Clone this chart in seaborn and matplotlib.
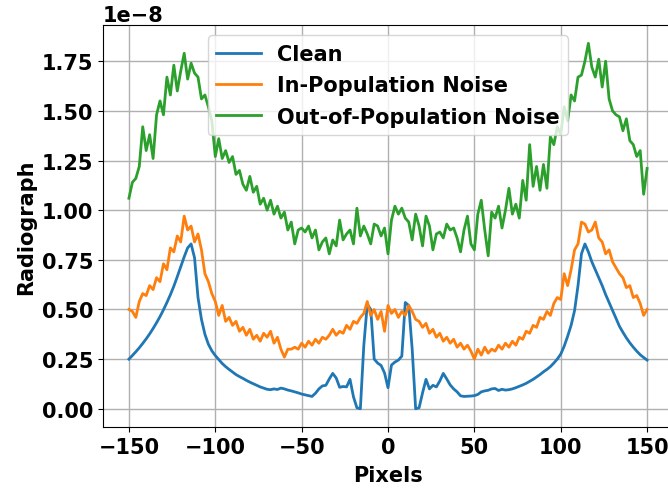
import numpy as np
import pandas as pd
import matplotlib
matplotlib.use("Agg")
import matplotlib.pyplot as plt
import seaborn as sns

pixels = list(range(-150, 151, 2))

clean = [
    0.250, 0.268, 0.287, 0.307, 0.329, 0.352, 0.377, 0.404, 0.433, 0.464,
    0.498, 0.535, 0.574, 0.617, 0.665, 0.715, 0.765, 0.810, 0.830, 0.760,
    0.560, 0.450, 0.375, 0.325, 0.292, 0.268, 0.248, 0.228, 0.212, 0.198,
    0.185, 0.172, 0.162, 0.153, 0.143, 0.134, 0.126, 0.118, 0.110, 0.104,
    0.098, 0.096, 0.100, 0.097, 0.104, 0.100, 0.094, 0.090, 0.085, 0.080,
    0.074, 0.070, 0.066, 0.062, 0.078, 0.100, 0.115, 0.118, 0.150, 0.178,
    0.155, 0.108, 0.112, 0.110, 0.148, 0.060, 0.005, 0.000, 0.320, 0.526,
    0.500, 0.250, 0.230, 0.218, 0.180, 0.106, 0.220, 0.235, 0.245, 0.265,
    0.535, 0.520, 0.300, 0.000, 0.005, 0.080, 0.148, 0.100, 0.118, 0.110,
    0.140, 0.178, 0.150, 0.120, 0.100, 0.085, 0.065, 0.062, 0.063, 0.064,
    0.066, 0.072, 0.085, 0.090, 0.093, 0.100, 0.102, 0.092, 0.098, 0.094,
    0.096, 0.100, 0.106, 0.113, 0.120, 0.128, 0.138, 0.148, 0.160, 0.172,
    0.186, 0.198, 0.212, 0.230, 0.250, 0.275, 0.315, 0.365, 0.420, 0.494,
    0.620, 0.780, 0.830, 0.790, 0.740, 0.700, 0.660, 0.620, 0.575, 0.535,
    0.495, 0.455, 0.415, 0.385, 0.357, 0.332, 0.310, 0.290, 0.272, 0.258,
    0.245,
]

in_population = [
    0.50, 0.49, 0.46, 0.54, 0.58, 0.57, 0.62, 0.60, 0.66, 0.64,
    0.73, 0.70, 0.81, 0.79, 0.87, 0.84, 0.97, 0.90, 0.92, 0.84,
    0.88, 0.80, 0.68, 0.64, 0.58, 0.54, 0.47, 0.52, 0.44, 0.46,
    0.42, 0.44, 0.39, 0.41, 0.37, 0.40, 0.35, 0.37, 0.34, 0.38,
    0.36, 0.39, 0.33, 0.36, 0.30, 0.26, 0.30, 0.30, 0.31, 0.30,
    0.33, 0.31, 0.34, 0.32, 0.35, 0.33, 0.36, 0.35, 0.37, 0.40,
    0.37, 0.39, 0.38, 0.42, 0.40, 0.44, 0.43, 0.46, 0.48, 0.54,
    0.47, 0.50, 0.45, 0.49, 0.39, 0.52, 0.48, 0.50, 0.46, 0.49,
    0.47, 0.52, 0.49, 0.45, 0.44, 0.41, 0.43, 0.38, 0.40, 0.36,
    0.38, 0.34, 0.36, 0.33, 0.35, 0.31, 0.33, 0.30, 0.32, 0.29,
    0.25, 0.30, 0.27, 0.31, 0.28, 0.30, 0.29, 0.32, 0.30, 0.33,
    0.31, 0.34, 0.32, 0.36, 0.35, 0.39, 0.38, 0.42, 0.41, 0.46,
    0.45, 0.49, 0.47, 0.53, 0.56, 0.55, 0.68, 0.62, 0.70, 0.80,
    0.83, 0.94, 0.93, 0.89, 0.90, 0.94, 0.86, 0.84, 0.78, 0.80,
    0.74, 0.71, 0.68, 0.66, 0.61, 0.62, 0.56, 0.57, 0.53, 0.47,
    0.50,
]

out_of_population = [
    1.06, 1.14, 1.16, 1.22, 1.42, 1.30, 1.38, 1.26, 1.48, 1.55,
    1.48, 1.67, 1.58, 1.73, 1.60, 1.70, 1.79, 1.66, 1.74, 1.69,
    1.67, 1.56, 1.58, 1.52, 1.45, 1.27, 1.36, 1.26, 1.30, 1.24,
    1.27, 1.18, 1.20, 1.13, 1.10, 1.17, 1.09, 1.12, 1.03, 1.06,
    1.00, 1.05, 0.98, 1.02, 0.96, 0.99, 0.90, 0.94, 0.83, 0.90,
    0.91, 0.89, 0.92, 0.86, 0.90, 0.80, 0.84, 0.86, 0.78, 0.85,
    0.82, 0.95, 0.85, 0.88, 0.90, 0.83, 1.01, 0.87, 0.92, 0.88,
    0.83, 0.93, 0.92, 0.87, 0.91, 0.78, 0.95, 1.02, 0.98, 1.01,
    0.96, 0.94, 0.85, 0.98, 0.92, 0.82, 0.97, 0.92, 0.80, 0.88,
    0.89, 0.86, 0.93, 0.90, 0.91, 0.86, 0.79, 0.90, 0.97, 0.83,
    0.80, 0.98, 1.05, 0.90, 0.77, 0.99, 0.96, 1.02, 0.91, 1.00,
    1.11, 0.98, 1.03, 0.96, 1.15, 1.05, 1.33, 1.12, 1.22, 1.10,
    1.23, 1.11, 1.37, 1.33, 1.42, 1.38, 1.52, 1.45, 1.58, 1.55,
    1.67, 1.68, 1.75, 1.84, 1.72, 1.67, 1.76, 1.62, 1.75, 1.56,
    1.50, 1.48, 1.47, 1.40, 1.46, 1.35, 1.33, 1.27, 1.30, 1.08,
    1.21,
]

labels = ["Clean", "In-Population Noise", "Out-of-Population Noise"]
scale = 1e-8

plt.rcParams["font.family"] = ["DejaVu Sans"]
plt.rcParams["font.weight"] = "bold"
plt.rcParams["axes.labelweight"] = "bold"
plt.rcParams["font.size"] = 15

fig = plt.figure(figsize=(6.68, 4.89), dpi=100)
ax = fig.add_axes([0.1542, 0.1247, 0.8533, 0.822])

colors = sns.color_palette("tab10", 3)
for series, lab, col in zip([clean, in_population, out_of_population], labels, colors):
    df = pd.DataFrame({"Pixels": pixels, "Radiograph": np.array(series) * scale})
    sns.lineplot(data=df, x="Pixels", y="Radiograph", ax=ax, label=lab,
                 color=col, linewidth=2)

ax.grid(True, color="#b0b0b0", linewidth=1)
ax.set_axisbelow(True)
ax.set_xticks([-150, -100, -50, 0, 50, 100, 150])
ax.set_yticks(np.array([0, 0.25, 0.5, 0.75, 1.0, 1.25, 1.5, 1.75]) * scale)
ax.set_xlabel("Pixels", fontweight="bold", fontsize=15, labelpad=6)
ax.set_ylabel("Radiograph", fontweight="bold", fontsize=15)
ax.tick_params(labelsize=15)
ax.yaxis.get_offset_text().set_fontweight("bold")
ax.yaxis.get_offset_text().set_fontsize(15)
leg = ax.legend(loc="upper center", prop={"weight": "bold", "size": 15},
                handlelength=2.15, labelspacing=0.55, borderpad=0.4)

fig.savefig("out.png", dpi=100)
